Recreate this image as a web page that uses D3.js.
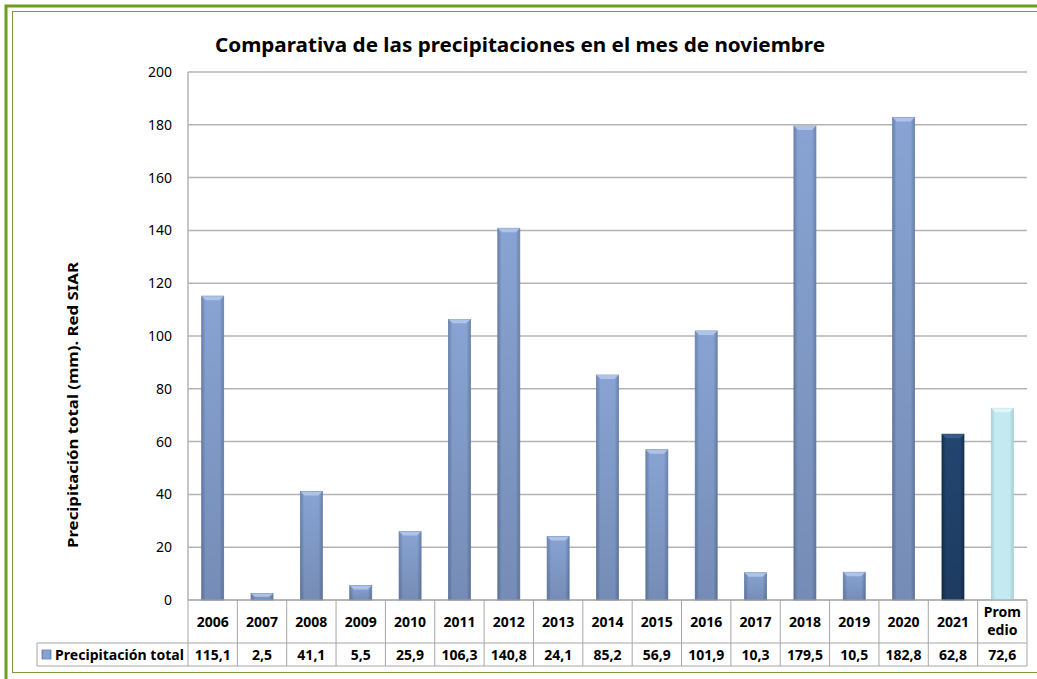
<!DOCTYPE html>
<html>
<head>
  <meta charset="utf-8">
  <script src="https://d3js.org/d3.v7.min.js"></script>
  <style>
    body { margin:0; background:#fff; overflow:hidden; }
    svg text { font-family: "Noto Sans", "Open Sans", sans-serif; }
  </style>
</head>
<body>
  <script>
    // datos
    var categorias = ["2006","2007","2008","2009","2010","2011","2012","2013","2014","2015","2016","2017","2018","2019","2020","2021","Promedio"];
    var valores = [115.1, 2.5, 41.1, 5.5, 25.9, 106.3, 140.8, 24.1, 85.2, 56.9, 101.9, 10.3, 179.5, 10.5, 182.8, 62.8, 72.6];
    var etiquetasTabla = ["115,1","2,5","41,1","5,5","25,9","106,3","140,8","24,1","85,2","56,9","101,9","10,3","179,5","10,5","182,8","62,8","72,6"];
    var ticksY = [0, 20, 40, 60, 80, 100, 120, 140, 160, 180, 200];
    var serie = "Precipitación total";

    var W = 1037, H = 679;
    var pLeft = 188, pRight = 1027, pTop = 72, pBottom = 600;

    var svg = d3.select("body").append("svg")
      .attr("width", W)
      .attr("height", H);

    // degradados de las barras
    var defs = svg.append("defs");
    function grad(id, edge, mid) {
      var g = defs.append("linearGradient").attr("id", id)
        .attr("x1", "0%").attr("x2", "100%").attr("y1", "0%").attr("y2", "0%");
      g.append("stop").attr("offset", "0%").attr("stop-color", edge);
      g.append("stop").attr("offset", "18%").attr("stop-color", mid);
      g.append("stop").attr("offset", "82%").attr("stop-color", mid);
      g.append("stop").attr("offset", "100%").attr("stop-color", edge);
    }
    grad("gNormal", "#6a82ae", "#88a3d3");
    grad("gActual", "#163050", "#224570");
    grad("gMedia", "#a4d2dc", "#c4e9f1");
    // sombra vertical (mas oscuro abajo)
    var sv = defs.append("linearGradient").attr("id", "gSombra")
      .attr("x1", "0%").attr("x2", "0%").attr("y1", "0%").attr("y2", "100%");
    sv.append("stop").attr("offset", "0%").attr("stop-color", "#000").attr("stop-opacity", 0);
    sv.append("stop").attr("offset", "100%").attr("stop-color", "#000").attr("stop-opacity", 0.14);

    // marco verde
    svg.append("rect").attr("x", 6).attr("y", 6).attr("width", W + 20).attr("height", H + 20)
      .attr("fill", "none").attr("stroke", "#6f9e1c").attr("stroke-width", 3);
    svg.append("rect").attr("x", 12.5).attr("y", 11.5).attr("width", W + 20).attr("height", 661)
      .attr("fill", "none").attr("stroke", "#7a9a3c").attr("stroke-width", 1);

    var x = d3.scaleBand().domain(categorias).range([pLeft, pRight]).paddingInner(0).paddingOuter(0);
    var y = d3.scaleLinear().domain([0, 200]).range([pBottom, pTop]);

    // lineas de division
    svg.append("g").selectAll("line").data(ticksY).enter().append("line")
      .attr("x1", pLeft).attr("x2", pRight)
      .attr("y1", function(d){ return y(d); }).attr("y2", function(d){ return y(d); })
      .attr("stroke", "#b3b3b3").attr("stroke-width", 1.5);

    // eje Y
    svg.append("line").attr("x1", pLeft).attr("x2", pLeft).attr("y1", pTop).attr("y2", pBottom)
      .attr("stroke", "#b3b3b3").attr("stroke-width", 1.5);
    var ejeY = svg.append("g").attr("transform", "translate(" + pLeft + ",0)")
      .call(d3.axisLeft(y).tickValues(ticksY).tickSize(0).tickPadding(16));
    ejeY.select(".domain").remove();
    ejeY.selectAll("text").attr("font-size", "14px").attr("fill", "#000")
      .style("font-family", "'Noto Sans', sans-serif");

    // barras
    var bw = 22;
    function bx(i) { return x(categorias[i]) + x.bandwidth()/2 - bw/2; }
    var barras = svg.append("g").selectAll("g").data(valores).enter().append("g");
    barras.append("rect")
      .attr("x", function(d, i){ return bx(i); })
      .attr("y", function(d){ return y(d); })
      .attr("width", bw)
      .attr("height", function(d){ return pBottom - y(d); })
      .attr("fill", function(d, i){ return i == 16 ? "url(#gMedia)" : i == 15 ? "url(#gActual)" : "url(#gNormal)"; })
      .attr("stroke", function(d, i){ return i == 16 ? "#a8cdd6" : i == 15 ? "#163050" : "#6a82ae"; })
      .attr("stroke-width", 0.8);
    barras.filter(function(d, i){ return i < 16; }).append("rect")
      .attr("x", function(d){ return bx(valores.indexOf(d)); })
      .attr("y", function(d){ return y(d); })
      .attr("width", bw)
      .attr("height", function(d){ return pBottom - y(d); })
      .attr("fill", "url(#gSombra)");
    // bisel superior
    barras.append("path")
      .attr("d", function(d, i){
        var x0 = bx(i), y0 = y(d);
        var b = Math.min(4, (pBottom - y0)/2);
        return "M" + x0 + "," + y0 + "L" + (x0 + bw) + "," + y0 + "L" + (x0 + bw - 4) + "," + (y0 + b) + "L" + (x0 + 4) + "," + (y0 + b) + "Z";
      })
      .attr("fill", function(d, i){ return i == 16 ? "#e4f6fa" : i == 15 ? "#3a5f8c" : "#b3c7ea"; })
      .attr("opacity", 0.9);

    // tabla de datos
    var fila1 = 643, fila2 = 666, tablaIzq = 37;
    var borde = "#a6a6a6";
    var tabla = svg.append("g").attr("stroke", borde).attr("stroke-width", 1);
    tabla.append("line").attr("x1", pLeft).attr("x2", pRight).attr("y1", pBottom).attr("y2", pBottom);
    tabla.append("line").attr("x1", tablaIzq).attr("x2", pRight).attr("y1", fila1).attr("y2", fila1);
    tabla.append("line").attr("x1", tablaIzq).attr("x2", pRight).attr("y1", fila2).attr("y2", fila2);
    tabla.append("line").attr("x1", tablaIzq).attr("x2", tablaIzq).attr("y1", fila1).attr("y2", fila2);
    tabla.selectAll("line.v").data(categorias.concat(["fin"])).enter().append("line")
      .attr("class", "v")
      .attr("x1", function(d, i){ return i < categorias.length ? x(d) : pRight; })
      .attr("x2", function(d, i){ return i < categorias.length ? x(d) : pRight; })
      .attr("y1", pBottom).attr("y2", fila2);

    // categorias
    svg.append("g").selectAll("text").data(categorias).enter().append("text")
      .attr("x", function(d){ return x(d) + x.bandwidth()/2; })
      .attr("y", 627)
      .attr("text-anchor", "middle")
      .attr("font-size", "14px").attr("font-weight", "bold")
      .text(function(d){ return d == "Promedio" ? "" : d; });
    var cx = x("Promedio") + x.bandwidth()/2;
    var prom = svg.append("text")
      .attr("x", cx).attr("y", 617)
      .attr("text-anchor", "middle").attr("font-size", "14px").attr("font-weight", "bold");
    prom.append("tspan").attr("x", cx).text("Prom");
    prom.append("tspan").attr("x", cx).attr("dy", 18).text("edio");

    // valores
    svg.append("g").selectAll("text").data(etiquetasTabla).enter().append("text")
      .attr("x", function(d, i){ return x(categorias[i]) + x.bandwidth()/2; })
      .attr("y", 660)
      .attr("text-anchor", "middle")
      .attr("font-size", "14px").attr("font-weight", "bold")
      .text(function(d){ return d; });

    // leyenda
    svg.append("rect").attr("x", 42).attr("y", 650).attr("width", 9).attr("height", 9)
      .attr("fill", "url(#gNormal)").attr("stroke", "#6a82ae").attr("stroke-width", 0.8);
    svg.append("text").attr("x", 55).attr("y", 660)
      .attr("font-size", "14px").attr("font-weight", "bold")
      .attr("textLength", 129).attr("lengthAdjust", "spacingAndGlyphs")
      .text(serie);

    // titulo
    svg.append("text").attr("x", 520).attr("y", 52)
      .attr("text-anchor", "middle")
      .attr("font-size", "20px").attr("font-weight", "bold")
      .attr("textLength", 610).attr("lengthAdjust", "spacingAndGlyphs")
      .text("Comparativa de las precipitaciones en el mes de noviembre");

    // titulo eje Y
    svg.append("text")
      .attr("transform", "translate(78,405) rotate(-90)")
      .attr("text-anchor", "middle")
      .attr("font-size", "14px").attr("font-weight", "bold")
      .attr("textLength", 286).attr("lengthAdjust", "spacingAndGlyphs")
      .text("Precipitación total (mm). Red SIAR");
  </script>
</body>
</html>
